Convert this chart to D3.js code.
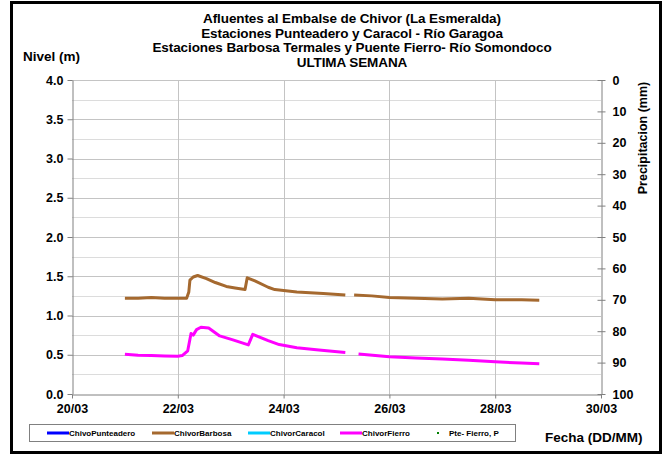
<!DOCTYPE html>
<html>
<head>
<meta charset="utf-8">
<script src="https://cdn.jsdelivr.net/npm/d3@7"></script>
<style>
  html, body { margin: 0; padding: 0; background: #fff; }
  svg { display: block; }
  text { font-family: "Liberation Sans", Arial, sans-serif; }
</style>
</head>
<body>
<svg id="chart" width="667" height="455"></svg>
<script>
// Titles
const titleLines = [
  "Afluentes al Embalse de Chivor (La Esmeralda)",
  "Estaciones Punteadero y Caracol - Río Garagoa",
  "Estaciones Barbosa Termales y Puente Fierro- Río Somondoco",
  "ULTIMA SEMANA"
];

// Axis ticks
const levelTicks = [0, 0.5, 1.0, 1.5, 2.0, 2.5, 3.0, 3.5, 4.0];
const rainTicks = [0, 10, 20, 30, 40, 50, 60, 70, 80, 90, 100];
const dateTicks = ["20/03 00:00", "22/03 00:00", "24/03 00:00", "26/03 00:00", "28/03 00:00", "30/03 00:00"];

// Series names
const seriesNames = ["ChivoPunteadero", "ChivorBarbosa", "ChivorCaracol", "ChivorFierro", "Pte- Fierro, P"];

// Level readings (m); null marks missing data
const chivoPunteadero = [];
const chivorCaracol = [];
const pteFierroP = [];

const chivorBarbosa = [
  ["21/03 00:00", 1.22], ["21/03 06:00", 1.22], ["21/03 12:00", 1.23], ["21/03 18:00", 1.22],
  ["22/03 00:00", 1.22], ["22/03 04:00", 1.22], ["22/03 05:00", 1.30], ["22/03 05:30", 1.45],
  ["22/03 07:00", 1.49], ["22/03 09:00", 1.51], ["22/03 13:00", 1.47], ["22/03 17:00", 1.42],
  ["22/03 22:00", 1.37], ["23/03 02:00", 1.35], ["23/03 06:30", 1.33], ["23/03 07:30", 1.48],
  ["23/03 11:00", 1.44], ["23/03 17:00", 1.36], ["23/03 20:00", 1.33], ["24/03 06:00", 1.30],
  ["24/03 18:00", 1.28], ["25/03 04:00", 1.26], ["25/03 06:00", null],
  ["25/03 08:00", 1.26], ["25/03 16:00", 1.25], ["26/03 00:00", 1.23], ["26/03 12:00", 1.22],
  ["27/03 00:00", 1.21], ["27/03 12:00", 1.22], ["28/03 00:00", 1.20], ["28/03 12:00", 1.20],
  ["28/03 20:00", 1.195]
];

const chivorFierro = [
  ["21/03 00:00", 0.505], ["21/03 06:00", 0.495], ["21/03 12:00", 0.49], ["21/03 18:00", 0.485],
  ["22/03 00:00", 0.48], ["22/03 02:00", 0.49], ["22/03 04:30", 0.55], ["22/03 06:00", 0.77],
  ["22/03 07:00", 0.75], ["22/03 08:30", 0.82], ["22/03 10:30", 0.85], ["22/03 14:00", 0.84],
  ["22/03 19:00", 0.74], ["23/03 01:00", 0.69], ["23/03 08:00", 0.625], ["23/03 10:00", 0.76],
  ["23/03 17:00", 0.68], ["23/03 22:00", 0.63], ["24/03 06:00", 0.59], ["24/03 16:00", 0.56],
  ["25/03 04:00", 0.53], ["25/03 07:00", null],
  ["25/03 10:00", 0.51], ["26/03 00:00", 0.475], ["26/03 12:00", 0.46], ["27/03 00:00", 0.445],
  ["27/03 12:00", 0.43], ["28/03 00:00", 0.41], ["28/03 12:00", 0.395], ["28/03 20:00", 0.385]
];

const colors = {
  ChivoPunteadero: "#0000FF",
  ChivorBarbosa: "#A5692F",
  ChivorCaracol: "#00CCFF",
  ChivorFierro: "#FF00FF",
  "Pte- Fierro, P": "#008000"
};

const parse = d3.timeParse("%d/%m %H:%M");
const svg = d3.select("#chart");

// Outer frame
svg.append("rect").attr("x", 11.5).attr("y", 2.5).attr("width", 649).attr("height", 450)
  .attr("fill", "#fff").attr("stroke", "#000").attr("stroke-width", 3);

const plot = { left: 72, right: 601, top: 80, bottom: 394 };

const x = d3.scaleTime()
  .domain([parse(dateTicks[0]), parse(dateTicks[dateTicks.length - 1])])
  .range([plot.left, plot.right]);
const y = d3.scaleLinear().domain([0, 4]).range([plot.bottom, plot.top]);
const yR = d3.scaleLinear().domain([0, 100]).range([plot.top, plot.bottom]);

// Grid
const gridVals = d3.range(0.25, 4.01, 0.25);
svg.append("g").selectAll("line").data(gridVals).join("line")
  .attr("x1", plot.left).attr("x2", plot.right)
  .attr("y1", d => Math.round(y(d)) + 0.5).attr("y2", d => Math.round(y(d)) + 0.5)
  .attr("stroke", d => (Math.abs(d * 2 - Math.round(d * 2)) < 1e-6) ? "#c4c4c4" : "#dcdcdc")
  .attr("stroke-width", 1);
svg.append("g").selectAll("line").data(dateTicks.slice(1, -1)).join("line")
  .attr("x1", d => Math.round(x(parse(d))) + 0.5).attr("x2", d => Math.round(x(parse(d))) + 0.5)
  .attr("y1", plot.top).attr("y2", plot.bottom)
  .attr("stroke", "#c4c4c4").attr("stroke-width", 1);

// Axes
const tickFont = g => g.selectAll("text")
  .attr("font-size", 12.5).attr("font-weight", "bold").attr("fill", "#000");

const gL = svg.append("g").attr("transform", `translate(${plot.left + 0.5},0)`)
  .call(d3.axisLeft(y).tickValues(levelTicks).tickFormat(d3.format(".1f")).tickSizeInner(5).tickSizeOuter(0).tickPadding(4));
gL.select(".domain").attr("stroke", "#808080");
gL.selectAll(".tick line").attr("stroke", "#808080");
gL.call(tickFont);

const gR = svg.append("g").attr("transform", `translate(${plot.right + 0.5},0)`)
  .call(d3.axisRight(yR).tickValues(rainTicks).tickSizeInner(4).tickSizeOuter(0).tickPadding(7));
gR.select(".domain").attr("stroke", "#808080");
gR.selectAll(".tick line").attr("stroke", "#808080").attr("x1", -4);
gR.call(tickFont);

const gB = svg.append("g").attr("transform", `translate(0,${plot.bottom + 0.5})`)
  .call(d3.axisBottom(x).tickValues(dateTicks.map(parse)).tickFormat(d3.timeFormat("%d/%m")).tickSizeInner(4).tickSizeOuter(0).tickPadding(6));
gB.select(".domain").attr("stroke", "#808080");
gB.selectAll(".tick line").attr("stroke", "#808080");
gB.call(tickFont);

// Series lines
const line = d3.line()
  .defined(d => d[1] !== null)
  .x(d => x(parse(d[0])))
  .y(d => y(d[1]));

const seriesData = {
  ChivoPunteadero: chivoPunteadero,
  ChivorBarbosa: chivorBarbosa,
  ChivorCaracol: chivorCaracol,
  ChivorFierro: chivorFierro
};
Object.entries(seriesData).forEach(([name, data]) => {
  if (!data.length) return;
  svg.append("path").datum(data)
    .attr("d", line)
    .attr("fill", "none")
    .attr("stroke", colors[name])
    .attr("stroke-width", 3)
    .attr("stroke-linejoin", "round");
});
svg.append("g").selectAll("circle").data(pteFierroP).join("circle")
  .attr("cx", d => x(parse(d[0]))).attr("cy", d => yR(d[1])).attr("r", 1.5)
  .attr("fill", colors["Pte- Fierro, P"]);

// Titles
svg.append("g").selectAll("text").data(titleLines).join("text")
  .attr("x", 352).attr("y", (d, i) => 23 + i * 14.5)
  .attr("text-anchor", "middle").attr("font-size", 13.5).attr("font-weight", "bold")
  .attr("letter-spacing", -0.1)
  .text(d => d);

svg.append("text").attr("x", 23).attr("y", 61)
  .attr("font-size", 13.5).attr("font-weight", "bold").text("Nivel (m)");

svg.append("text").attr("transform", "translate(647,138) rotate(-90)")
  .attr("text-anchor", "middle").attr("font-size", 12.5).attr("font-weight", "bold")
  .text("Precipitacion (mm)");

svg.append("text").attr("x", 545).attr("y", 442)
  .attr("font-size", 13.5).attr("font-weight", "bold").text("Fecha (DD/MM)");

// Legend
svg.append("rect").attr("x", 29.5).attr("y", 424.5).attr("width", 486).attr("height", 17)
  .attr("fill", "#fff").attr("stroke", "#808080");
const legendX = [47, 152, 248, 340, 438];
seriesNames.forEach((name, i) => {
  const lx = legendX[i];
  if (name === "Pte- Fierro, P") {
    svg.append("rect").attr("x", lx - 1).attr("y", 432).attr("width", 2).attr("height", 2)
      .attr("fill", colors[name]);
    svg.append("text").attr("x", lx + 11).attr("y", 435.5)
      .attr("font-size", 8).attr("font-weight", "bold").text(name);
  } else {
    svg.append("line").attr("x1", lx).attr("x2", lx + 22).attr("y1", 433).attr("y2", 433)
      .attr("stroke", colors[name]).attr("stroke-width", 3);
    svg.append("text").attr("x", lx + 22).attr("y", 435.5)
      .attr("font-size", 8).attr("font-weight", "bold").text(name);
  }
});
</script>
</body>
</html>
